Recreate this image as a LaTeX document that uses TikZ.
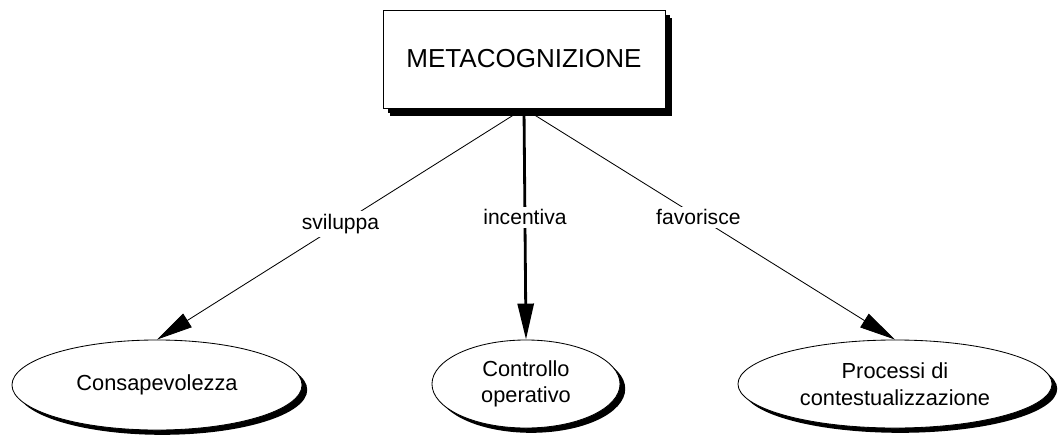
\documentclass[tikz,border=0pt]{standalone}
\usepackage{fontspec}
\setmainfont{Liberation Sans}
\usetikzlibrary{arrows.meta,shapes.geometric,shadows}

\begin{document}
\begin{tikzpicture}[x=0.025cm,y=-0.025cm,
	>={Triangle[length=0.9cm,width=0.4cm]},
	concetto/.style={draw,fill=white,line width=0.6pt,
		drop shadow={shadow xshift=0.13cm,shadow yshift=-0.12cm,opacity=1,fill=black}},
	radice/.style={concetto,rectangle,minimum width=7.05cm,minimum height=2.45cm,
		font=\fontsize{18.5}{21}\selectfont,
		drop shadow={shadow xshift=0.18cm,shadow yshift=-0.2cm,opacity=1,fill=black}},
	foglia/.style={concetto,ellipse,inner sep=0pt,align=center,
		font=\fontsize{15.5}{19}\selectfont},
	legame/.style={->,line width=0.6pt},
	etichetta/.style={fill=white,inner sep=2pt,font=\fontsize{15}{17}\selectfont}]
	
	\useasboundingbox (0,0) rectangle (1061,441);
	
	\node [radice] (meta) at (524,59) {METACOGNIZIONE};
	
	\node [foglia,minimum width=7.25cm,minimum height=2.25cm] (consap) at (157,385) {Consapevolezza};
	\node [foglia,minimum width=4.7cm,minimum height=2.2cm] (controllo) at (526,384) {Controllo\\operativo};
	\node [foglia,minimum width=7.85cm,minimum height=2.2cm] (processi) at (895,384) {Processi di\\contestualizzazione};
	
	\draw [legame] (meta.south) -- node [etichetta,pos=0.5] {sviluppa} (consap.north);
	\draw [legame,line width=2pt] (meta.south) -- node [etichetta,pos=0.47] {incentiva} (controllo.north);
	\draw [legame] (meta.south) -- node [etichetta,pos=0.47] {favorisce} (processi.north);
	
\end{tikzpicture}
\end{document}
